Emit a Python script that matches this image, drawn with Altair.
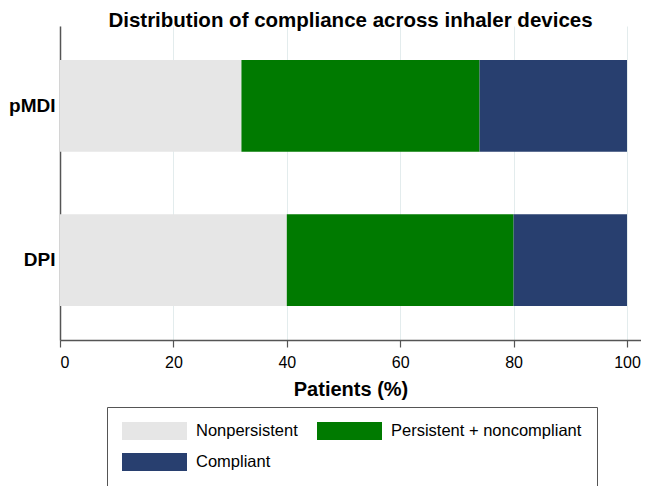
import altair as alt
import pandas as pd

devices = ["pMDI", "DPI"]
categories = ["Nonpersistent", "Persistent + noncompliant", "Compliant"]
pmdi_values = [32, 42, 26]
dpi_values = [40, 40, 20]
colors = ["#e6e6e6", "#007a00", "#283f6f"]
x_ticks = [0, 20, 40, 60, 80, 100]

rows = []
for dev, vals in zip(devices, [pmdi_values, dpi_values]):
    for i, (cat, v) in enumerate(zip(categories, vals)):
        rows.append({"device": dev, "category": cat, "order": i, "value": v})
df = pd.DataFrame(rows)

FONT = "Liberation Sans"

chart = alt.Chart(df).mark_bar().encode(
    x=alt.X(
        "value:Q",
        stack="zero",
        scale=alt.Scale(domain=[0, 102.47], nice=False, zero=True),
        axis=alt.Axis(
            values=x_ticks,
            title="Patients (%)",
            titleFont=FONT,
            titleFontSize=20,
            titleFontWeight="bold",
            titleColor="black",
            titlePadding=9,
            labelFont=FONT,
            labelFontSize=16,
            labelColor="black",
            labelPadding=7,
            tickSize=7,
            tickColor="#555555",
            tickWidth=1.2,
            domainColor="#555555",
            domainWidth=1.5,
            grid=True,
            gridColor="#e3eced",
            gridWidth=1,
        ),
    ),
    y=alt.Y(
        "device:N",
        sort=devices,
        scale=alt.Scale(paddingInner=0.404, paddingOuter=0.22),
        axis=alt.Axis(
            title=None,
            labelFont=FONT,
            labelFontSize=19,
            labelFontWeight="bold",
            labelColor="black",
            labelPadding=5,
            labelLimit=200,
            ticks=False,
            domainColor="#555555",
            domainWidth=1.5,
            grid=False,
        ),
    ),
    color=alt.Color(
        "category:N",
        sort=categories,
        scale=alt.Scale(domain=categories, range=colors),
        legend=alt.Legend(
            title=None,
            orient="none",
            legendX=47,
            legendY=381,
            direction="horizontal",
            columns=2,
            columnPadding=19,
            rowPadding=13,
            padding=15,
            strokeColor="#555555",
            fillColor="white",
            symbolType="M-1,-0.277H1V0.277H-1Z",
            symbolSize=4225,
            symbolStrokeWidth=0,
            symbolOpacity=1,
            clipHeight=18,
            labelFont=FONT,
            labelFontSize=16.5,
            labelColor="black",
            labelOffset=9,
            labelLimit=300,
        ),
    ),
    order=alt.Order("order:Q"),
).properties(
    width=581,
    height=314,
    title=alt.TitleParams(
        "Distribution of compliance across inhaler devices",
        font=FONT,
        fontSize=20.5,
        fontWeight="bold",
        color="black",
        anchor="middle",
        offset=0,
        dy=5,
    ),
    autosize=alt.AutoSizeParams(type="none"),
    padding={"left": 52, "top": 18, "right": 0, "bottom": 146},
).configure_view(stroke=None)

chart.save("out.html", embed_options={"renderer": "svg", "actions": False})
